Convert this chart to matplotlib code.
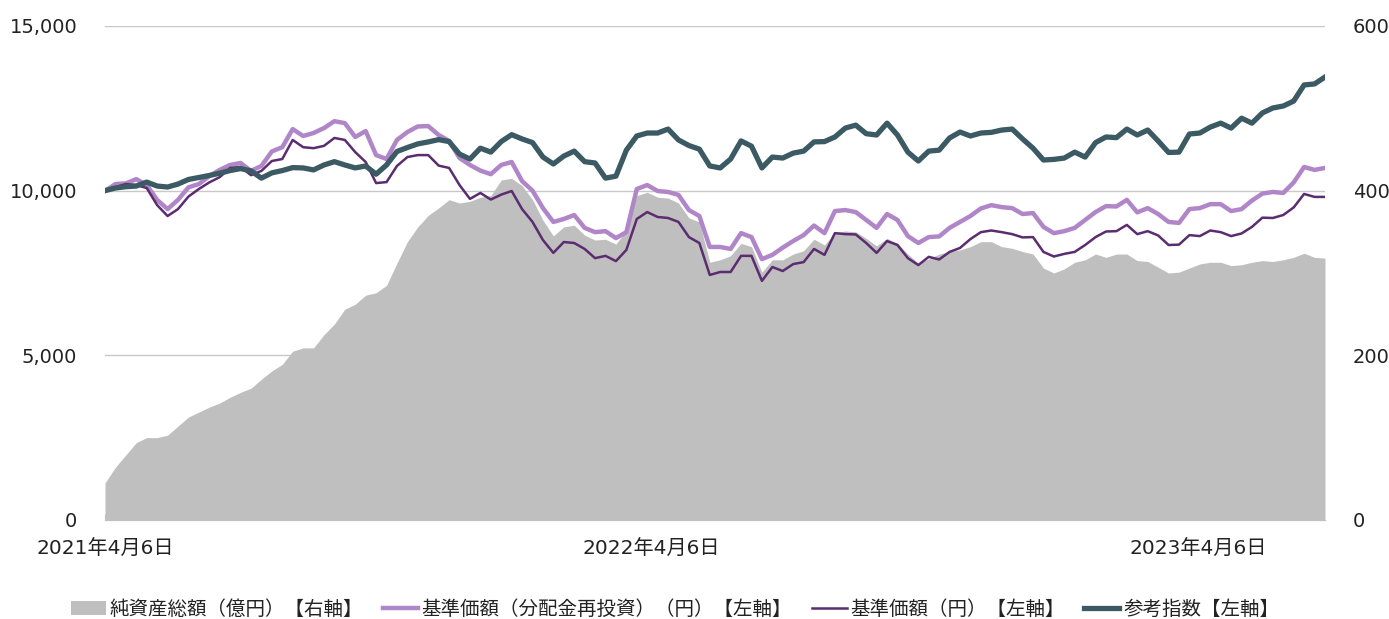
import matplotlib
matplotlib.use("Agg")
import matplotlib.pyplot as plt
from matplotlib.patches import Patch
from matplotlib.lines import Line2D
import pandas as pd

plt.rcParams['font.family'] = ['Noto Sans CJK JP', 'DejaVu Sans']
TICK_FONT = ['DejaVu Sans', 'Noto Sans CJK JP']

# weekly-ish sampling between first and last date
START = "2021-04-06"
END = "2023-06-30"
N_POINTS = 118

# 参考指数 (left axis)
index_ref = [10000, 10080, 10120, 10140, 10260, 10140, 10110, 10200, 10340, 10400,
             10460, 10530, 10610, 10670, 10600, 10380, 10540, 10610, 10700, 10690,
             10630, 10780, 10880, 10780, 10690, 10750, 10500, 10780, 11190, 11310,
             11420, 11480, 11550, 11490, 11110, 10960, 11290, 11170, 11490, 11700,
             11570, 11460, 11020, 10810, 11050, 11200, 10880, 10840, 10380, 10440,
             11230, 11660, 11750, 11750, 11870, 11540, 11370, 11260, 10750, 10690,
             10960, 11510, 11350, 10690, 11020, 10990, 11140, 11200, 11480, 11490,
             11630, 11900, 11990, 11730, 11690, 12050, 11690, 11170, 10900, 11200,
             11230, 11600, 11780, 11660, 11750, 11770, 11840, 11870, 11570, 11290,
             10930, 10950, 10990, 11170, 11020, 11460, 11630, 11610, 11870, 11690,
             11840, 11510, 11160, 11170, 11720, 11750, 11930, 12050, 11900, 12200,
             12050, 12360, 12510, 12570, 12720, 13210, 13240, 13450]

# 基準価額（分配金再投資） (left axis)
nav_reinvested = [9990, 10200, 10220, 10350, 10170, 9720, 9440, 9720, 10100, 10200,
                  10440, 10630, 10780, 10840, 10600, 10750, 11190, 11320, 11870, 11660,
                  11750, 11900, 12110, 12050, 11630, 11810, 11080, 10960, 11540, 11780,
                  11950, 11960, 11690, 11510, 10990, 10780, 10610, 10500, 10780, 10870,
                  10290, 10000, 9470, 9050, 9140, 9260, 8870, 8740, 8770, 8560,
                  8740, 10050, 10170, 9990, 9960, 9870, 9410, 9230, 8290, 8290,
                  8230, 8710, 8590, 7920, 8050, 8270, 8470, 8650, 8940, 8710,
                  9380, 9410, 9350, 9110, 8870, 9290, 9110, 8620, 8410, 8590,
                  8610, 8870, 9050, 9230, 9460, 9560, 9500, 9470, 9290, 9320,
                  8900, 8710, 8770, 8870, 9110, 9350, 9530, 9520, 9720, 9340,
                  9470, 9290, 9050, 9020, 9440, 9470, 9590, 9590, 9380, 9440,
                  9700, 9910, 9960, 9930, 10250, 10720, 10630, 10690]

# 基準価額 (left axis)
nav = [10000, 10110, 10200, 10170, 10080, 9560, 9230, 9440, 9820, 10050,
       10250, 10410, 10690, 10720, 10470, 10600, 10900, 10960, 11540, 11320,
       11290, 11360, 11600, 11540, 11170, 10870, 10230, 10260, 10750, 11020,
       11080, 11080, 10760, 10690, 10170, 9750, 9930, 9730, 9880, 9990,
       9440, 9050, 8500, 8110, 8440, 8410, 8230, 7950, 8020, 7860,
       8200, 9140, 9350, 9200, 9170, 9050, 8590, 8410, 7440, 7530,
       7530, 8020, 8020, 7260, 7680, 7560, 7770, 7830, 8230, 8050,
       8710, 8680, 8670, 8410, 8110, 8470, 8350, 7950, 7740, 7990,
       7910, 8140, 8260, 8530, 8740, 8790, 8740, 8680, 8580, 8590,
       8140, 8000, 8080, 8140, 8350, 8590, 8760, 8770, 8960, 8680,
       8770, 8640, 8350, 8360, 8650, 8620, 8790, 8740, 8620, 8700,
       8900, 9180, 9170, 9260, 9490, 9900, 9810, 9810]

# 純資産総額（億円） (right axis)
net_assets = [45, 64, 79, 94, 100, 100, 103, 114, 125, 131,
              137, 142, 149, 155, 160, 171, 181, 189, 205, 209,
              209, 225, 238, 256, 262, 273, 276, 285, 312, 338,
              356, 370, 379, 389, 385, 387, 392, 394, 413, 415,
              406, 389, 364, 345, 356, 358, 346, 340, 341, 335,
              352, 394, 398, 392, 391, 385, 367, 362, 313, 316,
              321, 336, 332, 301, 316, 316, 323, 327, 341, 334,
              349, 351, 350, 342, 333, 342, 336, 323, 312, 317,
              323, 326, 328, 332, 338, 338, 332, 330, 326, 323,
              306, 300, 305, 313, 316, 323, 319, 323, 323, 315,
              314, 307, 300, 301, 306, 311, 313, 313, 309, 310,
              313, 315, 314, 316, 319, 324, 319, 318]

tick_dates = ["2021-04-06", "2022-04-06", "2023-04-06"]
tick_labels = ["2021年4月6日", "2022年4月6日", "2023年4月6日"]

legend_labels = ["純資産総額（億円）【右軸】", "基準価額（分配金再投資）（円）【左軸】",
                 "基準価額（円）【左軸】", "参考指数【左軸】"]

C_AREA = "#bfbfbf"
C_LIGHT = "#b086c8"
C_DARK = "#5b2c6f"
C_TEAL = "#3b5a63"
C_TEXT = "#222222"

dates = pd.date_range(START, END, periods=N_POINTS)

fig = plt.figure(figsize=(13.89, 6.19), dpi=100)
ax_r = fig.add_axes([0.0756, 0.160, 0.8783, 0.798])
ax_l = ax_r.twinx()

# area on the right axis (drawn below the lines)
ax_r.fill_between(dates, 0, net_assets, color=C_AREA, linewidth=0, zorder=2)
ax_r.set_ylim(0, 600)
ax_r.set_yticks([0, 200, 400, 600])
ax_r.grid(axis="y", color="#c8c8c8", linewidth=1.0, zorder=0)
ax_r.set_axisbelow(True)

# lines on the left axis
ax_l.plot(dates, nav_reinvested, color=C_LIGHT, linewidth=3.2, solid_joinstyle="round", zorder=3)
ax_l.plot(dates, nav, color=C_DARK, linewidth=1.8, solid_joinstyle="round", zorder=4)
ax_l.plot(dates, index_ref, color=C_TEAL, linewidth=3.8, solid_joinstyle="round", zorder=5)
ax_l.set_ylim(0, 15000)
ax_l.set_yticks([0, 5000, 10000, 15000])
ax_l.yaxis.set_major_formatter(matplotlib.ticker.FuncFormatter(lambda v, p: f"{int(v):,}"))

# put each axis on its own side (twinx flips them)
ax_r.yaxis.tick_right()
ax_r.yaxis.set_label_position("right")
ax_l.yaxis.tick_left()
ax_l.yaxis.set_label_position("left")

for a in (ax_r, ax_l):
    a.set_xlim(dates[0], dates[-1])
    for s in ("top", "left", "right"):
        a.spines[s].set_visible(False)
    a.spines["bottom"].set_color("#c0c0c0")
    a.tick_params(axis="y", length=0, pad=20, labelsize=14, labelcolor=C_TEXT)
    for t in a.get_yticklabels():
        t.set_family(TICK_FONT)

ax_r.set_xticks(pd.to_datetime(tick_dates))
ax_r.set_xticklabels(tick_labels, family=TICK_FONT)
ax_r.tick_params(axis="x", direction="in", length=4, color="#c0c0c0", pad=14,
                 labelsize=14.5, labelcolor=C_TEXT)
ax_l.tick_params(axis="x", length=0)
ax_l.patch.set_visible(False)

handles = [Patch(facecolor=C_AREA, edgecolor="none"),
           Line2D([0], [0], color=C_LIGHT, linewidth=3.2),
           Line2D([0], [0], color=C_DARK, linewidth=1.8),
           Line2D([0], [0], color=C_TEAL, linewidth=3.8)]
fig.legend(handles, legend_labels, loc="lower center", bbox_to_anchor=(0.486, -0.03),
           ncol=4, frameon=False, fontsize=14, handlelength=1.8, handletextpad=0.2,
           columnspacing=1.0, labelcolor=C_TEXT)

fig.savefig("out.png", dpi=100)
